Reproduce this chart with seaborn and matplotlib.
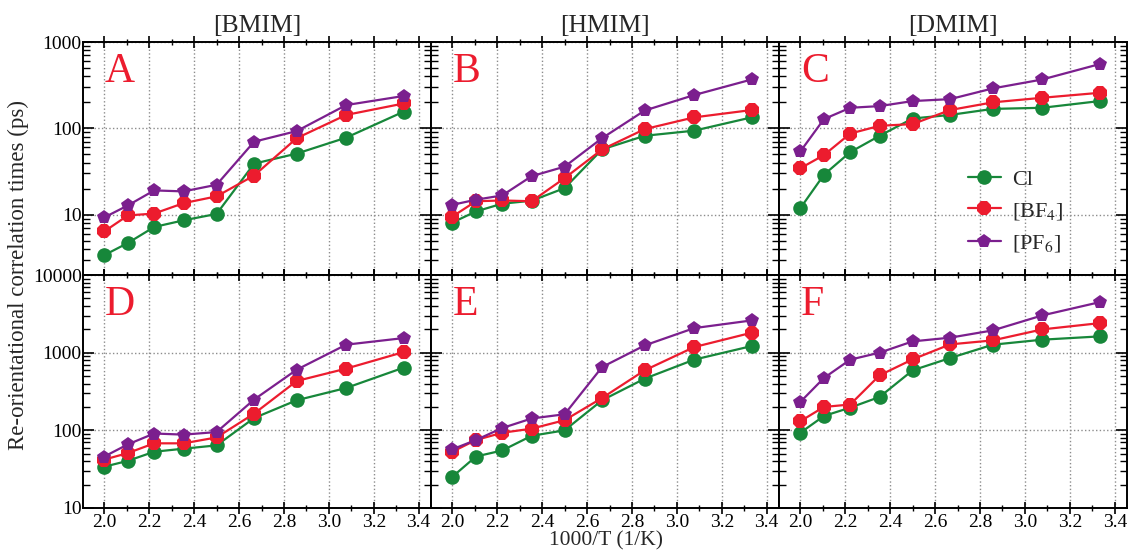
import matplotlib
matplotlib.use("Agg")
import matplotlib.pyplot as plt
import seaborn as sns
import pandas as pd
from matplotlib.ticker import LogLocator, MultipleLocator, NullFormatter

# 1000/T for T = 500, 475, ..., 300 K
inv_t = [2.0, 2.105, 2.222, 2.353, 2.5, 2.667, 2.857, 3.077, 3.333]

anions = ["Cl", "[BF$_4$]", "[PF$_6$]"]
cations = ["[BMIM]", "[HMIM]", "[DMIM]"]
letters = ["A", "B", "C", "D", "E", "F"]

# top row (A-C)
a_cl = [3.4, 4.7, 7.2, 8.6, 10.2, 39, 51, 78, 156]
a_bf4 = [6.4, 9.8, 10.3, 13.6, 16.3, 28.4, 77, 143, 194]
a_pf6 = [9.3, 12.8, 19.1, 18.6, 22.2, 70, 93, 186, 237]

b_cl = [8.1, 10.9, 13.4, 14.5, 20.3, 57, 82, 94, 134]
b_bf4 = [9.5, 14.3, 14.6, 14.3, 26.5, 57, 98, 134, 163]
b_pf6 = [13, 14.9, 16.7, 27.9, 36, 77, 161, 243, 368]

c_cl = [11.9, 29, 53, 82, 130, 143, 168, 173, 207]
c_bf4 = [34.5, 49, 87, 107, 112, 163, 200, 226, 258]
c_pf6 = [54, 128, 173, 181, 207, 218, 290, 368, 555]

# bottom row (D-F)
d_cl = [34, 40.5, 53, 58, 64, 144, 244, 351, 641]
d_bf4 = [42, 51, 68, 68, 81, 164, 432, 623, 1018]
d_pf6 = [46, 66, 91, 88, 95, 249, 604, 1267, 1541]

e_cl = [25.2, 46, 55, 85, 100, 244, 463, 813, 1216]
e_bf4 = [53, 75, 93, 105, 135, 261, 593, 1180, 1806]
e_pf6 = [57, 75, 107, 142, 161, 653, 1241, 2070, 2600]

f_cl = [93, 153, 196, 269, 592, 853, 1266, 1469, 1620]
f_bf4 = [131, 200, 215, 511, 820, 1278, 1439, 1993, 2400]
f_pf6 = [232, 472, 813, 1000, 1397, 1560, 1935, 3015, 4467]

panels = [
    (a_cl, a_bf4, a_pf6), (b_cl, b_bf4, b_pf6), (c_cl, c_bf4, c_pf6),
    (d_cl, d_bf4, d_pf6), (e_cl, e_bf4, e_pf6), (f_cl, f_bf4, f_pf6),
]

colors = {"Cl": "#17873a", "[BF$_4$]": "#ec1c2e", "[PF$_6$]": "#7b1f8e"}
markers = {"Cl": "o", "[BF$_4$]": "8", "[PF$_6$]": "p"}


def main():
    sns.set_theme(style="ticks")
    plt.rcParams["font.family"] = ["Liberation Serif", "DejaVu Serif"]
    plt.rcParams["mathtext.fontset"] = "stix"

    fig, axes = plt.subplots(2, 3, figsize=(11.31, 5.5), dpi=100)
    fig.subplots_adjust(left=0.0734, right=0.9965, top=0.9236,
                        bottom=0.0764, wspace=0, hspace=0)

    for i, ax in enumerate(axes.flat):
        rows = []
        for name, vals in zip(anions, panels[i]):
            for x, y in zip(inv_t, vals):
                rows.append({"x": x, "y": y, "anion": name})
        df = pd.DataFrame(rows)

        sns.lineplot(data=df, x="x", y="y", hue="anion", style="anion",
                     palette=colors, markers=markers, dashes=False,
                     markersize=10.5, markeredgewidth=0, linewidth=1.6,
                     estimator=None, ax=ax, legend=(i == 2))

        ax.set_yscale("log")
        ax.set_xlim(1.905, 3.455)
        if i < 3:
            ax.set_ylim(2, 1000)
        else:
            ax.set_ylim(10, 10000)

        ax.xaxis.set_major_locator(MultipleLocator(0.2))
        ax.xaxis.set_minor_locator(MultipleLocator(0.1))
        ax.yaxis.set_major_locator(LogLocator(base=10))
        ax.yaxis.set_minor_locator(LogLocator(base=10, subs=range(2, 10)))
        ax.yaxis.set_minor_formatter(NullFormatter())

        ax.grid(True, which="major", linestyle=":", color="#8c8c8c",
                linewidth=1.0)
        ax.tick_params(which="both", top=True, right=True, direction="in",
                       labelsize=14, colors="black")
        ax.tick_params(axis="x", which="both", direction="inout", pad=0)
        ax.tick_params(axis="y", pad=1)
        ax.tick_params(which="major", length=8, width=1.2)
        ax.tick_params(which="minor", length=5, width=1.0)
        for sp in ax.spines.values():
            sp.set_linewidth(1.4)
            sp.set_color("black")

        ax.set_xlabel("")
        ax.set_ylabel("")
        if i % 3 != 0:
            ax.set_yticklabels([])
        else:
            ax.yaxis.set_major_formatter(
                plt.FuncFormatter(lambda v, p: f"{v:.0f}"))
        if i < 3:
            ax.set_xticklabels([])
            ax.set_title(cations[i], fontsize=18.5, pad=7)

        ax.text(0.063, 0.955, letters[i], transform=ax.transAxes,
                fontsize=30, color="#ec1c2e", ha="left", va="top")

    leg = axes[0, 2].legend(loc="lower left", bbox_to_anchor=(0.485, 0.005),
                            frameon=False, fontsize=16, handlelength=1.5,
                            labelspacing=0.5, handletextpad=0.5)
    for h in leg.legend_handles:
        h.set_markersize(10.5)

    fig.text(0.016, 0.5, "Re-orientational correlation times (ps)",
             rotation=90, ha="center", va="center", fontsize=16.5)
    fig.text(0.536, 0.0, "1000/T (1/K)", ha="center", va="bottom",
             fontsize=15.5)

    fig.savefig("out.png", dpi=100)
    plt.close(fig)


if __name__ == "__main__":
    main()
